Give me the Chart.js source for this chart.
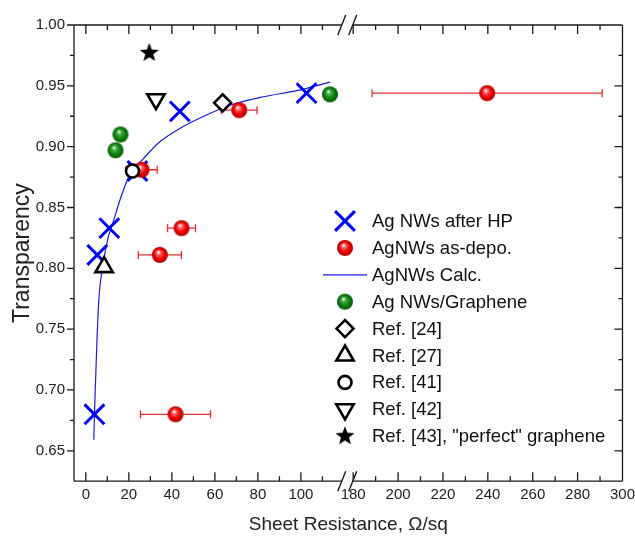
<!DOCTYPE html>
<html>
<head>
<meta charset="utf-8">
<script src="https://cdn.jsdelivr.net/npm/chart.js@4.4.0/dist/chart.umd.min.js"></script>
<style>
  html, body { margin: 0; padding: 0; background: #fff; overflow: hidden; }
  #wrap { width: 635px; height: 538px; overflow: hidden; }
  canvas { display: block; }
</style>
</head>
<body>
<div id="wrap"><canvas id="myChart" width="640" height="538"></canvas></div>
<script>
// values (sheet resistance in ohm/sq, transparency)
const hpR = [4.0, 5.3, 10.9, 24.0, 43.7, 102.6];
const hpT = [0.680, 0.811, 0.833, 0.880, 0.929, 0.944];

const depoR = [25.9, 34.4, 44.5, 41.7, 71.3, 239.7];
const depoT = [0.881, 0.811, 0.833, 0.680, 0.930, 0.944];
const depoErr = [7.3, 10.0, 6.5, 16.3, 8.3, 51.3];

const calcR = [3.7, 4.0, 5.0, 6.0, 8.0, 10.2, 12.7, 16.6, 20.5, 26.7, 34.4, 43.7, 56.1, 67.0, 82.5, 98.0, 113.5];
const calcT = [0.659, 0.680, 0.732, 0.773, 0.803, 0.824, 0.838, 0.860, 0.877, 0.890, 0.904, 0.915, 0.926, 0.934, 0.941, 0.946, 0.953];

const grapheneR = [13.8, 16.1, 113.5];
const grapheneT = [0.897, 0.910, 0.943];

const refNames = ['Ref. [24]', 'Ref. [27]', 'Ref. [41]', 'Ref. [42]', 'Ref. [43], "perfect" graphene'];
const refR = [63.6, 8.5, 21.7, 32.6, 29.5];
const refT = [0.936, 0.801, 0.880, 0.939, 0.977];

// broken x axis: two pieces
const xTicksLow = [0, 20, 40, 60, 80, 100];
const xTicksHigh = [180, 200, 220, 240, 260, 280, 300];
const yTicks = [0.65, 0.70, 0.75, 0.80, 0.85, 0.90, 0.95, 1.00];
const breakLow = 122;
const breakHigh = 177.8;

const FONT = '"Liberation Sans", Arial, sans-serif';

function sphere(r, light, base, dark) {
  const c = document.createElement('canvas');
  c.width = c.height = 2 * r + 2;
  const g = c.getContext('2d');
  const cx = r + 1, cy = r + 1;
  const grad = g.createRadialGradient(cx - r * 0.2, cy - r * 0.35, r * 0.05, cx, cy, r);
  grad.addColorStop(0, '#ffffff');
  grad.addColorStop(0.22, light);
  grad.addColorStop(0.6, base);
  grad.addColorStop(1, dark);
  g.fillStyle = grad;
  g.beginPath();
  g.arc(cx, cy, r, 0, Math.PI * 2);
  g.fill();
  return c;
}

function star(R) {
  const c = document.createElement('canvas');
  c.width = c.height = 2 * R + 2;
  const g = c.getContext('2d');
  const cx = R + 1, cy = R + 1;
  g.beginPath();
  for (let i = 0; i < 10; i++) {
    const rr = i % 2 ? R * 0.42 : R;
    const a = -Math.PI / 2 + i * Math.PI / 5;
    g.lineTo(cx + rr * Math.cos(a), cy + rr * Math.sin(a));
  }
  g.closePath();
  g.fillStyle = '#000';
  g.fill();
  return c;
}

const redBall = sphere(8, '#ff6a6a', '#f20000', '#b00000');
const greenBall = sphere(8, '#4cb04c', '#0e840e', '#045c04');
const starImg = star(10);

const pts = (xs, ys, keep) => xs.map((x, i) => ({x: x, y: ys[i]})).filter(p => keep(p.x));
const low = x => x < breakLow;
const high = x => x > breakHigh;

const hp = {
  label: 'Ag NWs after HP', data: pts(hpR, hpT, low), order: 9,
  pointStyle: 'crossRot', pointRadius: 14, borderColor: '#0000ff', pointBorderWidth: 3, backgroundColor: '#0000ff'
};
const depoLow = {
  label: 'AgNWs as-depo.', data: pts(depoR, depoT, low), order: 8,
  pointStyle: redBall, pointRadius: 8, errs: depoErr.filter((e, i) => low(depoR[i]))
};
const depoHigh = {
  label: 'AgNWs as-depo.', legend: false, xAxisID: 'x2', data: pts(depoR, depoT, high), order: 8,
  pointStyle: redBall, pointRadius: 8, errs: depoErr.filter((e, i) => high(depoR[i]))
};
const calc = {
  label: 'AgNWs Calc.', data: pts(calcR, calcT, low), order: 10, showLine: true,
  borderColor: '#1a1ae6', borderWidth: 1.2, pointRadius: 0, cubicInterpolationMode: 'monotone'
};
const graphene = {
  label: 'Ag NWs/Graphene', data: pts(grapheneR, grapheneT, low), order: 7,
  pointStyle: greenBall, pointRadius: 8
};
const refStyles = [
  {pointStyle: 'rectRot', pointRadius: 8.5, rotation: 0},
  {pointStyle: 'triangle', pointRadius: 10, rotation: 0},
  {pointStyle: 'circle', pointRadius: 6.5, rotation: 0},
  {pointStyle: 'triangle', pointRadius: 10, rotation: 180},
  {pointStyle: starImg, pointRadius: 10, rotation: 0}
];
const refs = refNames.map((name, i) => Object.assign({
  label: name, data: [{x: refR[i], y: refT[i]}], order: 5 - i,
  borderColor: '#000', backgroundColor: '#fff', pointBorderWidth: 2.6
}, refStyles[i]));

// horizontal error bars, drawn under the markers
const errorBars = {
  id: 'errorBars',
  beforeDatasetsDraw(chart) {
    const ctx = chart.ctx;
    ctx.save();
    ctx.strokeStyle = '#e8312f';
    ctx.lineWidth = 1.3;
    chart.data.datasets.forEach((ds, di) => {
      if (!ds.errs) return;
      const xs = chart.scales[ds.xAxisID || 'x'];
      const ys = chart.scales.y;
      ds.data.forEach((p, i) => {
        const x0 = xs.getPixelForValue(p.x - ds.errs[i]);
        const x1 = xs.getPixelForValue(p.x + ds.errs[i]);
        const y = ys.getPixelForValue(p.y);
        ctx.beginPath();
        ctx.moveTo(x0, y); ctx.lineTo(x1, y);
        ctx.moveTo(x0, y - 4); ctx.lineTo(x0, y + 4);
        ctx.moveTo(x1, y - 4); ctx.lineTo(x1, y + 4);
        ctx.stroke();
      });
    });
    ctx.restore();
  }
};

// frame, inward/outward ticks and the axis break marks
const frame = {
  id: 'frame',
  afterDatasetsDraw(chart) {
    const {ctx, chartArea: a, scales} = chart;
    const bx = scales.x.right - 1;
    const g0 = bx - 5.5, g1 = bx + 5.5;
    ctx.save();
    ctx.strokeStyle = '#1a1a1a';
    ctx.lineWidth = 1.3;
    ctx.beginPath();
    ctx.moveTo(a.left, a.top); ctx.lineTo(a.left, a.bottom);
    ctx.moveTo(a.right, a.top); ctx.lineTo(a.right, a.bottom);
    [a.top, a.bottom].forEach(y => {
      ctx.moveTo(a.left, y); ctx.lineTo(g0, y);
      ctx.moveTo(g1, y); ctx.lineTo(a.right, y);
    });
    // y ticks: outward on the left, inward on the right
    const ys = scales.y;
    yTicks.forEach((v, i) => {
      const y = ys.getPixelForValue(v);
      ctx.moveTo(a.left - 7, y); ctx.lineTo(a.left, y);
      ctx.moveTo(a.right - 8, y); ctx.lineTo(a.right, y);
      const m = v - 0.025;
      if (m > ys.min + 0.001) {
        const ym = ys.getPixelForValue(m);
        ctx.moveTo(a.left - 4, ym); ctx.lineTo(a.left, ym);
        ctx.moveTo(a.right - 4, ym); ctx.lineTo(a.right, ym);
      }
    });
    // x ticks on top and bottom, pointing in
    const xTick = (s, v, len) => {
      const x = s.getPixelForValue(v);
      ctx.moveTo(x, a.bottom); ctx.lineTo(x, a.bottom - len);
      ctx.moveTo(x, a.top); ctx.lineTo(x, a.top + len);
    };
    xTicksLow.forEach(v => { xTick(scales.x, v, 9); xTick(scales.x, v + 10, 5); });
    xTicksHigh.forEach((v, i) => { xTick(scales.x2, v, 9); if (i < xTicksHigh.length - 1) xTick(scales.x2, v + 10, 5); });
    ctx.stroke();
    // break marks
    ctx.lineWidth = 1.4;
    ctx.beginPath();
    [a.top, a.bottom].forEach(y => {
      [g0, g1].forEach(x => {
        ctx.moveTo(x - 4, y + 10); ctx.lineTo(x + 4, y - 10);
      });
    });
    ctx.stroke();
    ctx.restore();
  }
};

// legend inside the plot, lower right
const legendBox = {
  id: 'legendBox',
  afterDraw(chart) {
    const ctx = chart.ctx;
    const mx = 345, tx = 372;
    let y = 221;
    ctx.save();
    ctx.font = '18.5px ' + FONT;
    ctx.fillStyle = '#111';
    ctx.textBaseline = 'middle';
    chart.data.datasets.forEach(ds => {
      if (ds.legend === false) return;
      if (ds.showLine) {
        ctx.strokeStyle = ds.borderColor;
        ctx.lineWidth = ds.borderWidth;
        ctx.beginPath(); ctx.moveTo(323, y); ctx.lineTo(367, y); ctx.stroke();
      } else {
        ctx.strokeStyle = ds.borderColor || '#000';
        ctx.fillStyle = ds.backgroundColor || '#000';
        ctx.lineWidth = ds.pointBorderWidth || 1;
        ctx.beginPath();
        Chart.helpers.drawPoint(ctx, {
          pointStyle: ds.pointStyle, radius: ds.pointRadius, rotation: ds.rotation || 0,
          borderWidth: ds.pointBorderWidth || 1
        }, mx, y);
        ctx.fillStyle = '#111';
      }
      ctx.fillText(ds.label, tx, y + 1);
      y += 26.9;
    });
    ctx.restore();
  }
};

const tickFont = {family: FONT, size: 15};
const xGrid = {display: false, drawTicks: false};

new Chart(document.getElementById('myChart'), {
  type: 'scatter',
  data: {datasets: [hp, depoLow, calc, graphene].concat(refs, [depoHigh])},
  options: {
    responsive: false,
    animation: false,
    devicePixelRatio: 1,
    layout: {padding: {top: 25, right: 13, bottom: 0, left: 0}},
    plugins: {
      legend: {display: false},
      tooltip: {enabled: false},
      title: {
        display: true, position: 'bottom', fullSize: false,
        text: 'Sheet Resistance, \u03A9/sq', color: '#222',
        font: {family: FONT, size: 19, weight: 'normal'},
        padding: {top: 4, bottom: 2}
      }
    },
    scales: {
      x: {
        type: 'linear', position: 'bottom', stack: 'bx', stackWeight: 1,
        min: -5.5, max: breakLow,
        afterBuildTicks: s => { s.ticks = xTicksLow.map(v => ({value: v})); },
        grid: xGrid,
        border: {display: false},
        ticks: {font: tickFont, color: '#222', padding: 5, maxRotation: 0, autoSkip: false}
      },
      x2: {
        type: 'linear', position: 'bottom', stack: 'bx', stackWeight: 1,
        min: breakHigh, max: 300,
        afterBuildTicks: s => { s.ticks = xTicksHigh.map(v => ({value: v})); },
        grid: xGrid,
        border: {display: false},
        ticks: {font: tickFont, color: '#222', padding: 5, maxRotation: 0, autoSkip: false}
      },
      y: {
        type: 'linear', position: 'left',
        min: 0.625, max: 1.0,
        afterBuildTicks: s => { s.ticks = yTicks.map(v => ({value: v})); },
        afterFit: s => { s.width = 74; },
        grid: {display: false, drawTicks: false},
        border: {display: false},
        ticks: {font: tickFont, color: '#222', padding: 9, callback: v => v.toFixed(2)},
        title: {
          display: true, text: 'Transparency', color: '#222',
          font: {family: FONT, size: 23}, padding: {top: 9, bottom: 0}
        }
      }
    }
  },
  plugins: [errorBars, frame, legendBox]
});
</script>
</body>
</html>
